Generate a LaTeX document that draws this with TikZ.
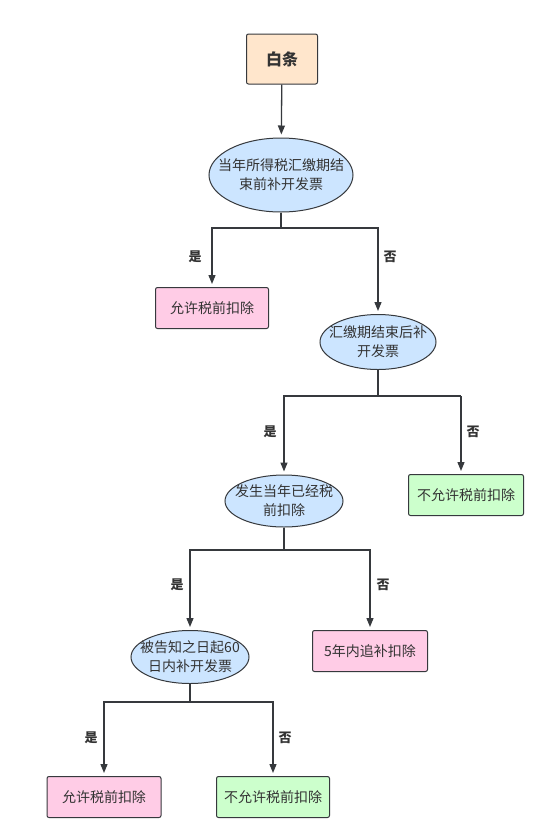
\documentclass[tikz,border=0pt]{standalone}
\usepackage{fontspec}
\setmainfont{Noto Sans CJK SC}
\usetikzlibrary{shapes.geometric,arrows.meta}
\definecolor{bordc}{HTML}{36393D}
\definecolor{txtc}{HTML}{333333}
\definecolor{peach}{HTML}{FFE6CC}
\definecolor{lblue}{HTML}{CCE5FF}
\definecolor{lpink}{HTML}{FFCCE6}
\definecolor{lgreen}{HTML}{CCFFCC}
\begin{document}
\begin{tikzpicture}[x=1pt,y=-1pt,
  every node/.style={text=txtc},
  box/.style={draw=bordc,line width=1pt,rounded corners=2pt,minimum height=41pt,inner sep=0pt,font=\fontsize{14}{19}\selectfont},
  oval/.style={ellipse,draw=bordc,line width=1pt,fill=lblue,inner sep=0pt},
  ovaltext/.style={align=center,inner sep=0pt,font=\fontsize{14}{19}\selectfont},
  link/.style={draw=bordc,line width=1.3pt},
  arr/.style={link,-{Triangle[length=9pt,width=7pt]},shorten >=3pt},
  lab/.style={font=\bfseries\fontsize{13}{15}\selectfont}
]
\path[use as bounding box] (0,0) rectangle (553,839);
\fill[white] (0,0) rectangle (553,839);

\node[box,fill=peach,minimum width=71pt,minimum height=50pt,font=\bfseries\fontsize{16}{19}\selectfont] (s) at (282,59) {白条};
\node[oval,minimum width=144pt,minimum height=74pt] (e1) at (281,175) {};
\node[ovaltext] (t1) at (e1) {当年所得税汇缴期结\\束前补开发票};
\node[box,fill=lpink,minimum width=113pt] (b1) at (212,308) {允许税前扣除};
\node[oval,minimum width=116pt,minimum height=55pt] (e2) at (378,342) {};
\node[ovaltext] (t2) at (e2) {汇缴期结束后补\\开发票};
\node[oval,minimum width=118pt,minimum height=52pt] (e3) at (284,501) {};
\node[ovaltext] (t3) at (e3) {发生当年已经税\\前扣除};
\node[box,fill=lgreen,minimum width=115pt] (b2) at (466,495) {不允许税前扣除};
\node[oval,minimum width=118pt,minimum height=53pt] (e4) at (190,657) {};
\node[ovaltext] (t4) at (e4) {被告知之日起60\\日内补开发票};
\node[box,fill=lpink,minimum width=115pt] (b3) at (370,651) {5年内追补扣除};
\node[box,fill=lpink,minimum width=114pt] (b4) at (104,797) {允许税前扣除};
\node[box,fill=lgreen,minimum width=113pt] (b5) at (273,797) {不允许税前扣除};

\coordinate (j1) at (281,228);
\coordinate (j2) at (378,396);
\coordinate (j3) at (284,550);
\coordinate (j4) at (190,702);
\coordinate (k2) at (461,396);

\draw[arr] (s) -- (e1);
\draw[link] (e1) -- (j1);
\draw[arr] (j1) -| (b1);
\draw[arr] (j1) -| (e2);
\draw[link] (e2) -- (j2);
\draw[arr] (j2) -| (e3);
\draw[link] (j2) -- (k2);
\draw[arr] (k2) -- (k2 |- b2.north);
\draw[link] (e3) -- (j3);
\draw[arr] (j3) -| (e4);
\draw[arr] (j3) -| (b3);
\draw[link] (e4) -- (j4);
\draw[arr] (j4) -| (b4);
\draw[arr] (j4) -| (b5);

\node[lab] (l1) at (195,257) {是};
\node[lab] (l2) at (390,257) {否};
\node[lab] (l3) at (270,432) {是};
\node[lab] (l4) at (473,432) {否};
\node[lab] (l5) at (177,585) {是};
\node[lab] (l6) at (383,585) {否};
\node[lab] (l7) at (91,738) {是};
\node[lab] (l8) at (285,738) {否};
\end{tikzpicture}
\end{document}
